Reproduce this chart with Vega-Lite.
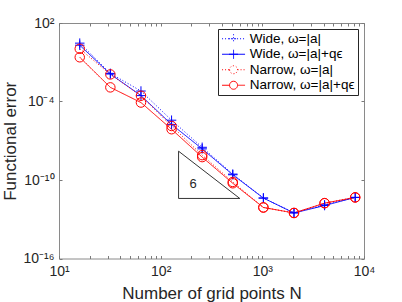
{
  "$schema": "https://vega.github.io/schema/vega-lite/v6.json",
  "width": 305,
  "height": 235.5,
  "autosize": {"type": "none"},
  "padding": {"left": 59, "top": 23, "right": 38, "bottom": 43.5},
  "datasets": {
    "main": [
      {"N": 16, "err": 2.884, "series": "Wide, ω=|a|"},
      {"N": 32, "err": 0.01413, "series": "Wide, ω=|a|"},
      {"N": 64, "err": 6.31e-4, "series": "Wide, ω=|a|"},
      {"N": 128, "err": 3.72e-6, "series": "Wide, ω=|a|"},
      {"N": 256, "err": 3.16e-8, "series": "Wide, ω=|a|"},
      {"N": 512, "err": 2.82e-10, "series": "Wide, ω=|a|"},
      {"N": 1024, "err": 4.17e-12, "series": "Wide, ω=|a|"},
      {"N": 2048, "err": 3.16e-13, "series": "Wide, ω=|a|"},
      {"N": 4096, "err": 1.26e-12, "series": "Wide, ω=|a|"},
      {"N": 8192, "err": 4.68e-12, "series": "Wide, ω=|a|"},
      {"N": 16, "err": 2.0, "series": "Wide, ω=|a|+qϵ"},
      {"N": 32, "err": 0.0126, "series": "Wide, ω=|a|+qϵ"},
      {"N": 64, "err": 2.82e-4, "series": "Wide, ω=|a|+qϵ"},
      {"N": 128, "err": 1.78e-6, "series": "Wide, ω=|a|+qϵ"},
      {"N": 256, "err": 2.4e-8, "series": "Wide, ω=|a|+qϵ"},
      {"N": 512, "err": 2.51e-10, "series": "Wide, ω=|a|+qϵ"},
      {"N": 1024, "err": 4.17e-12, "series": "Wide, ω=|a|+qϵ"},
      {"N": 2048, "err": 3.02e-13, "series": "Wide, ω=|a|+qϵ"},
      {"N": 4096, "err": 1.12e-12, "series": "Wide, ω=|a|+qϵ"},
      {"N": 8192, "err": 4.68e-12, "series": "Wide, ω=|a|+qϵ"},
      {"N": 16, "err": 1.07, "series": "Narrow, ω=|a|"},
      {"N": 32, "err": 0.01175, "series": "Narrow, ω=|a|"},
      {"N": 64, "err": 2.75e-4, "series": "Narrow, ω=|a|"},
      {"N": 128, "err": 1.35e-6, "series": "Narrow, ω=|a|"},
      {"N": 256, "err": 7.94e-9, "series": "Narrow, ω=|a|"},
      {"N": 512, "err": 7.08e-11, "series": "Narrow, ω=|a|"},
      {"N": 1024, "err": 7.94e-13, "series": "Narrow, ω=|a|"},
      {"N": 2048, "err": 3.02e-13, "series": "Narrow, ω=|a|"},
      {"N": 4096, "err": 1.7e-12, "series": "Narrow, ω=|a|"},
      {"N": 8192, "err": 4.68e-12, "series": "Narrow, ω=|a|"},
      {"N": 16, "err": 0.24, "series": "Narrow, ω=|a|+qϵ"},
      {"N": 32, "err": 1.2e-3, "series": "Narrow, ω=|a|+qϵ"},
      {"N": 64, "err": 8.32e-5, "series": "Narrow, ω=|a|+qϵ"},
      {"N": 128, "err": 7.59e-7, "series": "Narrow, ω=|a|+qϵ"},
      {"N": 256, "err": 5.62e-9, "series": "Narrow, ω=|a|+qϵ"},
      {"N": 512, "err": 5.62e-11, "series": "Narrow, ω=|a|+qϵ"},
      {"N": 1024, "err": 7.94e-13, "series": "Narrow, ω=|a|+qϵ"},
      {"N": 2048, "err": 3.02e-13, "series": "Narrow, ω=|a|+qϵ"},
      {"N": 4096, "err": 1.7e-12, "series": "Narrow, ω=|a|+qϵ"},
      {"N": 8192, "err": 4.68e-12, "series": "Narrow, ω=|a|+qϵ"}
    ],
    "tri": [
      {"N": 150, "err": 1.59e-8, "o": 1},
      {"N": 150, "err": 3.89e-12, "o": 2},
      {"N": 600, "err": 3.89e-12, "o": 3},
      {"N": 150, "err": 1.59e-8, "o": 4}
    ],
    "lab": [
      {"N": 208, "err": 4.68e-11, "t": "6"}
    ]
  },
  "config": {
    "font": "Liberation Sans",
    "view": {"stroke": "#8a8a8a", "strokeWidth": 1},
    "axis": {
      "domain": false,
      "grid": false,
      "tickColor": "#7a7a7a",
      "tickSize": -3,
      "tickWidth": 1,
      "labelColor": "#262626",
      "labelFontSize": 14,
      "labelFont": "Liberation Sans",
      "titleColor": "#262626",
      "titleFontWeight": "normal",
      "titleFontSize": 17,
      "titleFont": "Liberation Sans"
    },
    "legend": {
      "title": null,
      "orient": "top-right",
      "offset": 6,
      "fillColor": "white",
      "strokeColor": "#262626",
      "padding": 3,
      "labelFontSize": 13.5,
      "labelColor": "#000000",
      "labelLimit": 300,
      "symbolSize": 100,
      "symbolStrokeWidth": 1,
      "symbolOffset": 5.8,
      "labelOffset": 9.5,
      "rowPadding": 0.5
    }
  },
  "resolve": {"axis": {"x": "independent", "y": "independent"}},
  "layer": [
    {
      "data": {"name": "main"},
      "mark": {"type": "line", "strokeWidth": 1},
      "encoding": {
        "x": {
          "field": "N", "type": "quantitative",
          "scale": {"type": "log", "domain": [10, 10000], "nice": false},
          "axis": {
            "orient": "bottom",
            "values": [10,20,30,40,50,60,70,80,90,100,200,300,400,500,600,700,800,900,1000,2000,3000,4000,5000,6000,7000,8000,9000,10000],
            "labelExpr": "datum.value==10?'10¹':datum.value==100?'10²':datum.value==1000?'10³':datum.value==10000?'10⁴':''",
            "labelPadding": 9,
            "labelFlush": false,
            "labelOverlap": false,
            "title": "Number of grid points N",
            "titlePadding": 7
          }
        },
        "y": {
          "field": "err", "type": "quantitative",
          "scale": {"type": "log", "domain": [1e-16, 100], "nice": false},
          "axis": {
            "orient": "left",
            "values": [1e-16, 1e-10, 1e-4, 100],
            "labelExpr": "datum.value>10?'10²':datum.value>1e-5?'10⁻⁴':datum.value>1e-11?'10⁻¹⁰':'10⁻¹⁶'",
            "labelPadding": 8,
            "labelFlush": false,
            "labelOverlap": false,
            "title": "Functional error",
            "titlePadding": 4
          }
        },
        "color": {
          "field": "series", "type": "nominal",
          "scale": {
            "domain": ["Wide, ω=|a|", "Wide, ω=|a|+qϵ", "Narrow, ω=|a|", "Narrow, ω=|a|+qϵ"],
            "range": ["#0000ff", "#0000ff", "#ff0000", "#ff0000"]
          },
          "legend": {
            "encode": {
              "symbols": {
                "update": {
                  "shape": {"signal": "indexof(datum.value,'Wide')>=0 ? 'M-2.3,0H2.3M-0.9,0H0.9M0,-0.9V0.9' : 'M-2.3,0H-0.8M0.8,0H2.3M-0.8,0A0.8,0.8 0 1,0 0.8,0A0.8,0.8 0 1,0 -0.8,0'"},
                  "fill": {"value": "transparent"}
                }
              }
            }
          }
        },
        "strokeDash": {
          "field": "series", "type": "nominal",
          "scale": {
            "domain": ["Wide, ω=|a|", "Wide, ω=|a|+qϵ", "Narrow, ω=|a|", "Narrow, ω=|a|+qϵ"],
            "range": [[1, 2], [1, 0], [1, 2], [1, 0]]
          },
          "legend": {
            "encode": {
              "symbols": {
                "update": {
                  "shape": {"signal": "indexof(datum.value,'Wide')>=0 ? 'M-2.3,0H2.3M-0.9,0H0.9M0,-0.9V0.9' : 'M-2.3,0H-0.8M0.8,0H2.3M-0.8,0A0.8,0.8 0 1,0 0.8,0A0.8,0.8 0 1,0 -0.8,0'"},
                  "fill": {"value": "transparent"}
                }
              }
            }
          }
        }
      }
    },
    {
      "data": {"name": "main"},
      "transform": [{"filter": "indexof(datum.series,'Wide')>=0"}],
      "mark": {"type": "point", "filled": false, "strokeWidth": 1, "opacity": 1, "shape": "M-1,0H1M0,-1V1", "size": 90},
      "encoding": {
        "x": {
          "field": "N", "type": "quantitative",
          "axis": {
            "orient": "top",
            "values": [10,20,30,40,50,60,70,80,90,100,200,300,400,500,600,700,800,900,1000,2000,3000,4000,5000,6000,7000,8000,9000,10000],
            "labels": false,
            "title": null
          }
        },
        "y": {
          "field": "err", "type": "quantitative",
          "axis": {
            "orient": "right",
            "values": [1e-16, 1e-10, 1e-4, 100],
            "labels": false,
            "title": null
          }
        },
        "color": {"field": "series", "type": "nominal"}
      }
    },
    {
      "data": {"name": "main"},
      "transform": [{"filter": "indexof(datum.series,'Narrow')>=0"}],
      "mark": {"type": "point", "filled": false, "strokeWidth": 1, "opacity": 1, "shape": "M-1,0A1,1 0 1,0 1,0A1,1 0 1,0 -1,0", "size": 90},
      "encoding": {
        "x": {"field": "N", "type": "quantitative", "axis": null},
        "y": {"field": "err", "type": "quantitative", "axis": null},
        "color": {"field": "series", "type": "nominal"}
      }
    },
    {
      "data": {"name": "tri"},
      "mark": {"type": "line", "color": "#000000", "strokeWidth": 0.8},
      "encoding": {
        "x": {"field": "N", "type": "quantitative", "axis": null},
        "y": {"field": "err", "type": "quantitative", "axis": null},
        "order": {"field": "o", "type": "quantitative"}
      }
    },
    {
      "data": {"name": "lab"},
      "mark": {"type": "text", "fontSize": 13, "color": "#262626", "align": "center", "baseline": "middle"},
      "encoding": {
        "x": {"field": "N", "type": "quantitative", "axis": null},
        "y": {"field": "err", "type": "quantitative", "axis": null},
        "text": {"field": "t", "type": "nominal"}
      }
    }
  ]
}
